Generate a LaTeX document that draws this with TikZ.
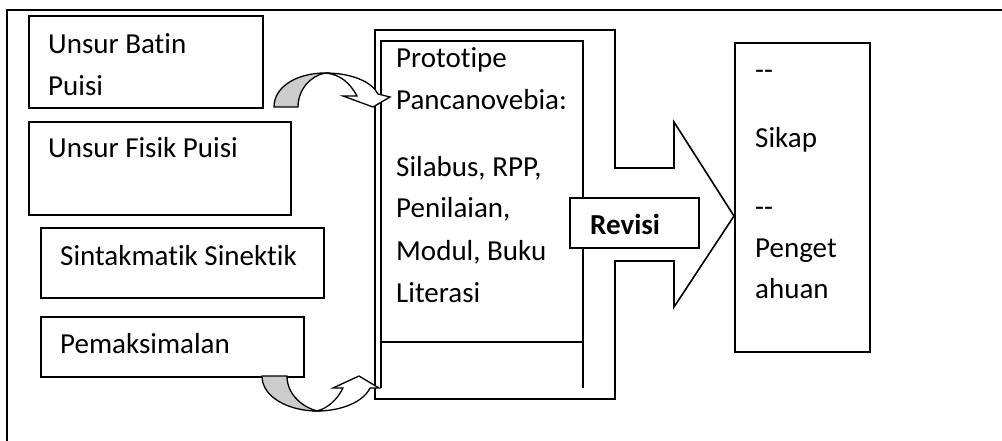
\documentclass[tikz,border=0pt]{standalone}
\usepackage{fontspec}
\setmainfont{Carlito}[Ligatures={TeX,NoCommon}]
\definecolor{bandgray}{RGB}{204,204,204}
\begin{document}
\begin{tikzpicture}[x=1pt,y=-1pt,line join=miter,
  box/.style={draw,line width=1.6pt,rectangle,inner sep=0pt,anchor=north west},
  lbl/.style={anchor=base west,inner sep=0pt,font=\fontsize{29}{42}\selectfont},
  boldlbl/.style={lbl,font=\fontsize{29}{42}\selectfont\bfseries},
  edge/.style={draw,line width=1.6pt},
  band/.style={draw,line width=1.3pt,fill=bandgray},
  front/.style={draw,line width=1.3pt,fill=white}]
\useasboundingbox (0,0) rectangle (1002,441);
% outer frame
\draw[line width=2.2pt] (1002,10) -- (7,10) -- (7,441);
% left boxes
\node[box,minimum width=234pt,minimum height=92pt] (b1) at (28,15) {};
\node[box,minimum width=262pt,minimum height=93pt] (b2) at (28,121) {};
\node[box,minimum width=283pt,minimum height=70pt] (b3) at (40,227) {};
\node[box,minimum width=263pt,minimum height=60pt] (b4) at (40,316) {};
\node[lbl] (t1a) at (48,54) {Unsur Batin};
\node[lbl] (t1b) at (48,96) {Puisi};
\node[lbl] (t2) at (48,158) {Unsur Fisik Puisi};
\node[lbl] (t3) at (60,265) {Sintakmatik Sinektik};
\node[lbl] (t4) at (60,353) {Pemaksimalan};
% middle box merged with block arrow
\path[edge] (375,30) -- (615,30) -- (615,168) -- (674,168) -- (674,122) -- (734,216)
  -- (674,307) -- (674,261) -- (615,261) -- (615,399) -- (375,399) -- cycle;
\coordinate (mtl) at (381,41);
\path[edge] (381,388) -- (mtl) -- (583,41) -- (583,388);
\path[edge] (381,342) -- (583,342);
\node[lbl] (m1) at (396,68) {Prototipe};
\node[lbl] (m2) at (396,110) {Pancanovebia:};
\node[lbl] (m3) at (396,177) {Silabus, RPP,};
\node[lbl] (m4) at (396,218) {Penilaian,};
\node[lbl] (m5) at (396,260) {Modul, Buku};
\node[lbl] (m6) at (396,302) {Literasi};
% revisi box
\node[box,fill=white,minimum width=129pt,minimum height=50pt] (rev) at (569,197) {};
\node[boldlbl] (revt) at (590,234) {Revisi};
% right box
\node[box,minimum width=135pt,minimum height=309pt] (rb) at (734,42) {};
\node[lbl] (r1) at (755,80) {-{}-};
\node[lbl] (r2) at (755,148) {Sikap};
\node[lbl] (r3) at (755,217) {-{}-};
\node[lbl] (r4) at (755,257) {Penget};
\node[lbl] (r5) at (755,298) {ahuan};
% top curved arrow
\path[band] (274,107) .. controls (274,86) and (298,73) .. (325,73)
  .. controls (310,76) and (298,90) .. (298,107) -- cycle;
\path[front] (325,73) .. controls (352,73) and (372,82) .. (378,94)
  -- (390,97) -- (373,107) -- (343,96) -- (357,96)
  .. controls (350,83) and (340,74) .. (325,73) -- cycle;
% bottom curved arrow
\path[band] (262,376) .. controls (262,398) and (290,411) .. (317,411)
  .. controls (300,406) and (287,393) .. (287,376) -- cycle;
\path[front] (317,411) .. controls (343,411) and (364,401) .. (370,388)
  -- (379,388) -- (359,376) -- (333,388) -- (343,388)
  .. controls (337,400) and (328,408) .. (317,411) -- cycle;
\end{tikzpicture}
\end{document}
